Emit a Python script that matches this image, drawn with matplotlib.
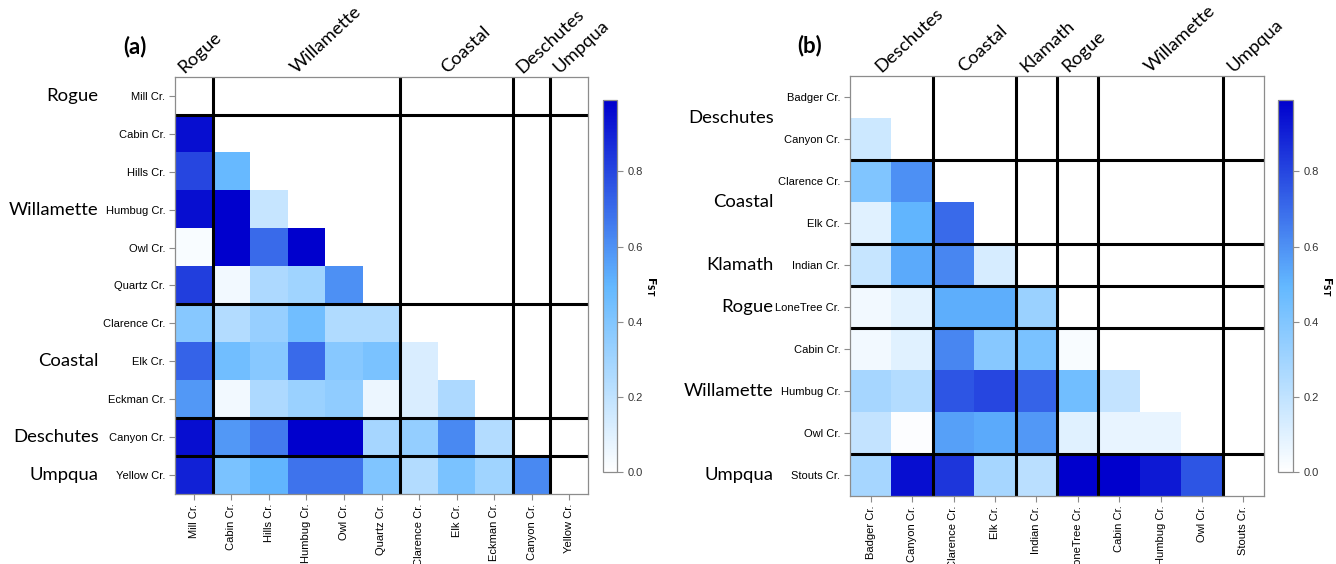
import matplotlib
matplotlib.use('Agg')
import matplotlib.pyplot as plt
import numpy as np
from matplotlib.colors import LinearSegmentedColormap

# panel (a) sites, groups and pairwise FST (lower triangle, row by row)
sites_a = ["Mill Cr.", "Cabin Cr.", "Hills Cr.", "Humbug Cr.", "Owl Cr.", "Quartz Cr.",
           "Clarence Cr.", "Elk Cr.", "Eckman Cr.", "Canyon Cr.", "Yellow Cr."]
groups_a = ["Rogue", "Willamette", "Coastal", "Deschutes", "Umpqua"]
group_sizes_a = [1, 5, 3, 1, 1]
fst_a = [
    [],
    [0.95],
    [0.80, 0.48],
    [0.95, 0.99, 0.18],
    [0.02, 0.99, 0.70, 0.99],
    [0.82, 0.04, 0.26, 0.30, 0.60],
    [0.38, 0.24, 0.33, 0.45, 0.25, 0.25],
    [0.72, 0.45, 0.38, 0.70, 0.38, 0.42, 0.12],
    [0.58, 0.04, 0.26, 0.32, 0.35, 0.06, 0.12, 0.26],
    [0.95, 0.58, 0.66, 0.99, 0.99, 0.28, 0.34, 0.62, 0.24],
    [0.90, 0.42, 0.50, 0.68, 0.68, 0.40, 0.24, 0.42, 0.30, 0.62],
]

# panel (b)
sites_b = ["Badger Cr.", "Canyon Cr.", "Clarence Cr.", "Elk Cr.", "Indian Cr.",
           "LoneTree Cr.", "Cabin Cr.", "Humbug Cr.", "Owl Cr.", "Stouts Cr."]
groups_b = ["Deschutes", "Coastal", "Klamath", "Rogue", "Willamette", "Umpqua"]
group_sizes_b = [2, 2, 1, 1, 3, 1]
fst_b = [
    [],
    [0.16],
    [0.40, 0.60],
    [0.10, 0.50, 0.70],
    [0.18, 0.53, 0.63, 0.13],
    [0.04, 0.09, 0.52, 0.52, 0.32],
    [0.04, 0.10, 0.63, 0.38, 0.42, 0.02],
    [0.28, 0.24, 0.76, 0.80, 0.72, 0.45, 0.19],
    [0.19, 0.01, 0.56, 0.53, 0.58, 0.10, 0.07, 0.07],
    [0.28, 0.95, 0.84, 0.28, 0.22, 0.99, 0.99, 0.92, 0.76],
]

cbar_ticks = [0.0, 0.2, 0.4, 0.6, 0.8]

cmap = LinearSegmentedColormap.from_list('fst', ['#FFFFFF', '#63B8FF', '#0000CD'])
VMAX = 0.99
GRAY = '#8c8c8c'
GROUP_FONT = 'Lato'


def to_matrix(rows):
    n = len(rows)
    m = np.full((n, n), np.nan)
    for i, r in enumerate(rows):
        m[i, :len(r)] = r
    return m


def draw_panel(fig, ax, cax, sites, rows, groups, sizes, tag):
    m = to_matrix(rows)
    n = len(sites)
    im = ax.imshow(m, cmap=cmap, vmin=0, vmax=VMAX, aspect='auto', interpolation='nearest')

    bounds = np.cumsum(sizes)[:-1] - 0.5
    for b in bounds:
        ax.axhline(b, color='black', lw=2.2)
        ax.axvline(b, color='black', lw=2.2)

    ax.set_xticks(range(n))
    ax.set_xticklabels(sites, rotation=90, fontsize=8, family='Liberation Sans')
    ax.set_yticks(range(n))
    ax.set_yticklabels(sites, fontsize=8, family='Liberation Sans')
    ax.tick_params(color=GRAY, length=4, width=0.8, pad=3)
    for s in ax.spines.values():
        s.set_color(GRAY)
        s.set_linewidth(0.9)
    ax.set_xlim(-0.5, n - 0.5)
    ax.set_ylim(n - 0.5, -0.5)

    # group labels on the left and along the top
    start = 0
    for name, size in zip(groups, sizes):
        centre = start + (size - 1) / 2.0
        ax.annotate(name, xy=(0, centre), xycoords=('axes fraction', 'data'),
                    xytext=(-55, 0), textcoords='offset points',
                    ha='right', va='center', fontsize=13.3, family=GROUP_FONT,
                    annotation_clip=False)
        ax.annotate(name, xy=(centre, 1), xycoords=('data', 'axes fraction'),
                    xytext=(-7, 2), textcoords='offset points',
                    ha='left', va='baseline', rotation=43, rotation_mode='anchor',
                    fontsize=13.3, family=GROUP_FONT, annotation_clip=False)
        start += size

    ax.annotate(tag, xy=(0, 1), xycoords='axes fraction', xytext=(-29, 14),
                textcoords='offset points', ha='center', va='bottom',
                fontsize=16, fontweight='bold', family=GROUP_FONT)

    cb = fig.colorbar(im, cax=cax, ticks=cbar_ticks)
    cb.outline.set_edgecolor(GRAY)
    cb.outline.set_linewidth(0.9)
    cax.tick_params(color=GRAY, length=4, width=0.8, labelsize=8, labelcolor='#333333')
    for t in cax.get_yticklabels():
        t.set_family('Liberation Sans')
    cax.set_ylabel(r'$\mathbf{F}_{\mathbf{ST}}$', rotation=270, fontsize=8, labelpad=11)


fig = plt.figure(figsize=(13.36, 5.64), dpi=100)
ax_a = fig.add_axes([175 / 1336, 1 - 494 / 564, 413 / 1336, 417 / 564])
cax_a = fig.add_axes([603 / 1336, 1 - 472 / 564, 14 / 1336, 372 / 564])
ax_b = fig.add_axes([850 / 1336, 1 - 496 / 564, 414 / 1336, 420 / 564])
cax_b = fig.add_axes([1278 / 1336, 1 - 472 / 564, 15 / 1336, 372 / 564])

draw_panel(fig, ax_a, cax_a, sites_a, fst_a, groups_a, group_sizes_a, '(a)')
draw_panel(fig, ax_b, cax_b, sites_b, fst_b, groups_b, group_sizes_b, '(b)')

fig.savefig('out.png', dpi=100, facecolor='white')
